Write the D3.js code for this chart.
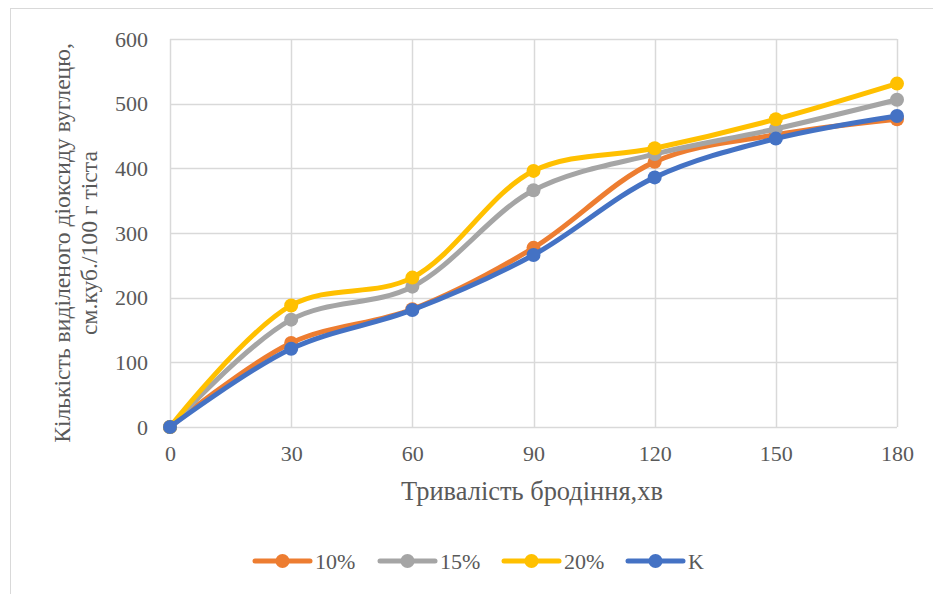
<!DOCTYPE html>
<html>
<head>
<meta charset="utf-8">
<script src="https://cdn.jsdelivr.net/npm/d3@7"></script>
</head>
<body style="margin:0;background:#fff">
<svg id="chart" width="933" height="594" style="display:block"></svg>
<script>
// Fermentation time, minutes
const minutes = [0, 30, 60, 90, 120, 150, 180];
// CO2 released, cm³ per 100 g of dough
const s10 = [0, 130, 182, 277, 410, 452, 476];
const s15 = [0, 166, 217, 366, 422, 461, 506];
const s20 = [0, 188, 231, 396, 431, 476, 531];
const sK  = [0, 121, 181, 266, 386, 446, 481];
const seriesNames = ["10%", "15%", "20%", "K"];
const seriesColors = ["#ED7D31", "#A5A5A5", "#FFC000", "#4472C4"];
const yTicks = [0, 100, 200, 300, 400, 500, 600];

const TEXT_COLOR = "#595959";

const svg = d3.select("#chart");

// Outer chart frame
svg.append("rect").attr("x", 10.5).attr("y", 8.5).attr("width", 940).attr("height", 620)
  .attr("fill", "#fff").attr("stroke", "#d9d9d9").attr("stroke-width", 1);

const x = d3.scaleLinear().domain([0, 180]).range([170, 897]);
const y = d3.scaleLinear().domain([0, 600]).range([427, 39]);

// Gridlines
const grid = svg.append("g");
grid.selectAll(".hg").data(yTicks).join("line")
  .attr("x1", x(0)).attr("x2", x(180))
  .attr("y1", d => Math.round(y(d)) + 0.5).attr("y2", d => Math.round(y(d)) + 0.5)
  .attr("stroke", "#d9d9d9").attr("stroke-width", 1.5);
grid.selectAll(".vg").data(minutes).join("line")
  .attr("y1", y(0)).attr("y2", y(600))
  .attr("x1", d => Math.round(x(d)) + 0.5).attr("x2", d => Math.round(x(d)) + 0.5)
  .attr("stroke", "#d9d9d9").attr("stroke-width", 1.5);

function styleText(sel, size) {
  sel.attr("font-family", "Liberation Serif").attr("font-size", size).attr("fill", TEXT_COLOR)
    .style("font-family", "'Liberation Serif'").style("font-size", size + "px");
}

// Axes (labels only)
const yAxis = svg.append("g").attr("transform", `translate(${x(0) - 22},0)`)
  .call(d3.axisLeft(y).tickValues(yTicks).tickSize(0).tickPadding(0));
yAxis.select(".domain").remove();
styleText(yAxis.selectAll("text"), 22);

const xAxis = svg.append("g").attr("transform", `translate(0,${y(0) + 18})`)
  .call(d3.axisBottom(x).tickValues(minutes).tickSize(0).tickPadding(0));
xAxis.select(".domain").remove();
styleText(xAxis.selectAll("text"), 22);

// Axis titles, sized to span their measured widths
const xt = svg.append("text").attr("x", 532).attr("y", 500).attr("text-anchor", "middle")
  .text("Тривалість бродіння,хв");
styleText(xt, 22);
styleText(xt, Math.min(30, 22 * 262 / xt.node().getComputedTextLength()));

const yt = svg.append("text").attr("transform", "translate(0,243) rotate(-90)")
  .attr("text-anchor", "middle");
const yt1 = yt.append("tspan").attr("x", 0).attr("y", 70).text("Кількість виділеного діоксиду вуглецю,");
yt.append("tspan").attr("x", 0).attr("y", 97).text("см.куб./100 г тіста");
styleText(yt, 22);
styleText(yt, Math.min(28, 22 * 400 / yt1.node().getComputedTextLength()));

// Series
const allSeries = [s10, s15, s20, sK];
const line = d3.line()
  .x((d, i) => x(minutes[i]))
  .y(d => y(d))
  .curve(d3.curveCatmullRom.alpha(0.5));

allSeries.forEach((vals, si) => {
  const g = svg.append("g");
  g.append("path").datum(vals).attr("d", line)
    .attr("fill", "none").attr("stroke", seriesColors[si])
    .attr("stroke-width", 5).attr("stroke-linecap", "round").attr("stroke-linejoin", "round");
  g.selectAll("circle").data(vals).join("circle")
    .attr("cx", (d, i) => x(minutes[i])).attr("cy", d => y(d))
    .attr("r", 7).attr("fill", seriesColors[si]);
});

// Legend
const legendX = [255, 380, 504, 628];
const lg = svg.append("g");
seriesNames.forEach((name, i) => {
  const lx = legendX[i], ly = 561;
  lg.append("line").attr("x1", lx).attr("x2", lx + 55).attr("y1", ly).attr("y2", ly)
    .attr("stroke", seriesColors[i]).attr("stroke-width", 5).attr("stroke-linecap", "round");
  lg.append("circle").attr("cx", lx + 27.5).attr("cy", ly).attr("r", 7).attr("fill", seriesColors[i]);
  styleText(lg.append("text").attr("x", lx + 60).attr("y", ly + 8).text(name), 22);
});
</script>
</body>
</html>
